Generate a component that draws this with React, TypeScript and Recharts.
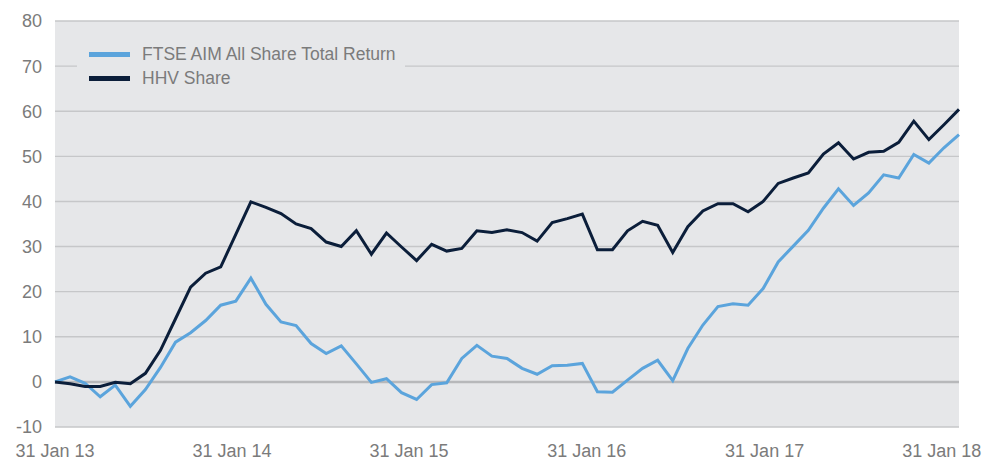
import {
  LineChart, Line, XAxis, YAxis, CartesianGrid, Legend, ReferenceLine,
} from 'recharts'

// ─── Data ─────────────────────────────────────────────────────────────────────

// month index from 31 Jan 13 (0) to 31 Jan 18 (60)
const MONTHS = Array.from({ length: 61 }, (_, i) => i)

const FTSE_AIM = [
  0, 1.1, -0.3, -3.3, -0.7, -5.4, -1.7, 3.2, 8.8, 10.9,
  13.6, 17.0, 17.9, 23.0, 17.2, 13.3, 12.5, 8.5, 6.3, 8.0,
  4.0, -0.1, 0.7, -2.4, -3.9, -0.6, -0.2, 5.2, 8.1, 5.7,
  5.2, 3.0, 1.7, 3.6, 3.7, 4.1, -2.2, -2.3, 0.4, 3.0,
  4.8, 0.3, 7.4, 12.6, 16.7, 17.3, 17.0, 20.7, 26.6, 30.1,
  33.6, 38.5, 42.8, 39.1, 41.9, 45.9, 45.2, 50.4, 48.5, 51.9,
  54.8,
]

const HHV_SHARE = [
  0, -0.4, -1.0, -1.0, -0.1, -0.4, 1.9, 7.0, 14.0, 21.0,
  24.1, 25.5, 32.7, 39.9, 38.7, 37.3, 35.0, 34.0, 31.0, 30.0,
  33.5, 28.3, 33.0, 29.9, 26.9, 30.5, 29.0, 29.6, 33.5, 33.1,
  33.7, 33.1, 31.2, 35.3, 36.2, 37.2, 29.3, 29.3, 33.5, 35.6,
  34.7, 28.7, 34.4, 37.9, 39.5, 39.5, 37.7, 40.0, 44.0, 45.2,
  46.3, 50.5, 53.0, 49.4, 50.9, 51.1, 53.1, 57.8, 53.7, 57.0,
  60.4,
]

const X_TICKS = [0, 11.75, 23.5, 35.3, 47.1, 58.85]
const X_TICK_LABELS = ['31 Jan 13', '31 Jan 14', '31 Jan 15', '31 Jan 16', '31 Jan 17', '31 Jan 18']
const Y_TICKS = [-10, 0, 10, 20, 30, 40, 50, 60, 70, 80]

// ─── Styles ───────────────────────────────────────────────────────────────────

const FONT = "'Liberation Sans', Arial, sans-serif"
const TEXT = '#7b7b7b'
const PLOT_BG = '#e6e7e9'
const BLUE = '#5ba4dc'
const NAVY = '#0b1e3a'

const chartData = MONTHS.map((m, i) => ({
  m,
  ftse: FTSE_AIM[i],
  hhv: HHV_SHARE[i],
}))

// ─── Legend ───────────────────────────────────────────────────────────────────

function LegendBox({ payload }: { payload?: { value: string; color: string }[] }) {
  return (
    <div style={{ padding: '2px 0 0 12px' }}>
      {(payload ?? []).map(p => (
        <div key={p.value} style={{ display: 'flex', alignItems: 'center', height: 24 }}>
          <span style={{ width: 41, height: 5, background: p.color, marginRight: 12 }} />
          <span style={{ fontFamily: FONT, fontSize: 17.5, color: TEXT }}>{p.value}</span>
        </div>
      ))}
    </div>
  )
}

// ─── Component ────────────────────────────────────────────────────────────────

export default function App() {
  return (
    <div style={{ position: 'absolute', left: 0, top: 0, width: 985, height: 462, background: '#fff' }}>
      <LineChart
        width={985}
        height={462}
        data={chartData}
        margin={{ top: 21, right: 26, bottom: 0, left: 0 }}
      >
        <CartesianGrid vertical={false} stroke="#c6c7c9" strokeWidth={1.4} fill={PLOT_BG} />
        <XAxis
          dataKey="m"
          type="number"
          domain={[0, 60]}
          ticks={X_TICKS}
          tickFormatter={(v: number) => X_TICK_LABELS[X_TICKS.indexOf(v)] ?? ''}
          axisLine={false}
          tickLine={false}
          tickSize={0}
          tickMargin={17}
          height={35}
          interval={0}
          tick={{ fontSize: 18, fill: TEXT, fontFamily: FONT }}
        />
        <YAxis
          domain={[-10, 80]}
          ticks={Y_TICKS}
          axisLine={false}
          tickLine={false}
          tickSize={0}
          tickMargin={13}
          width={55}
          interval={0}
          tick={{ fontSize: 18, fill: TEXT, fontFamily: FONT }}
        />
        <ReferenceLine y={0} stroke="#b7b8ba" strokeWidth={2.5} />
        <Legend
          layout="horizontal"
          align="center"
          verticalAlign="middle"
          content={<LegendBox />}
          wrapperStyle={{ left: 77, top: 40, width: 328, height: 52, background: PLOT_BG }}
        />
        <Line type="linear" dataKey="ftse" name="FTSE AIM All Share Total Return" stroke={BLUE} strokeWidth={3} dot={false} isAnimationActive={false} />
        <Line type="linear" dataKey="hhv" name="HHV Share" stroke={NAVY} strokeWidth={3} dot={false} isAnimationActive={false} />
      </LineChart>
    </div>
  )
}
